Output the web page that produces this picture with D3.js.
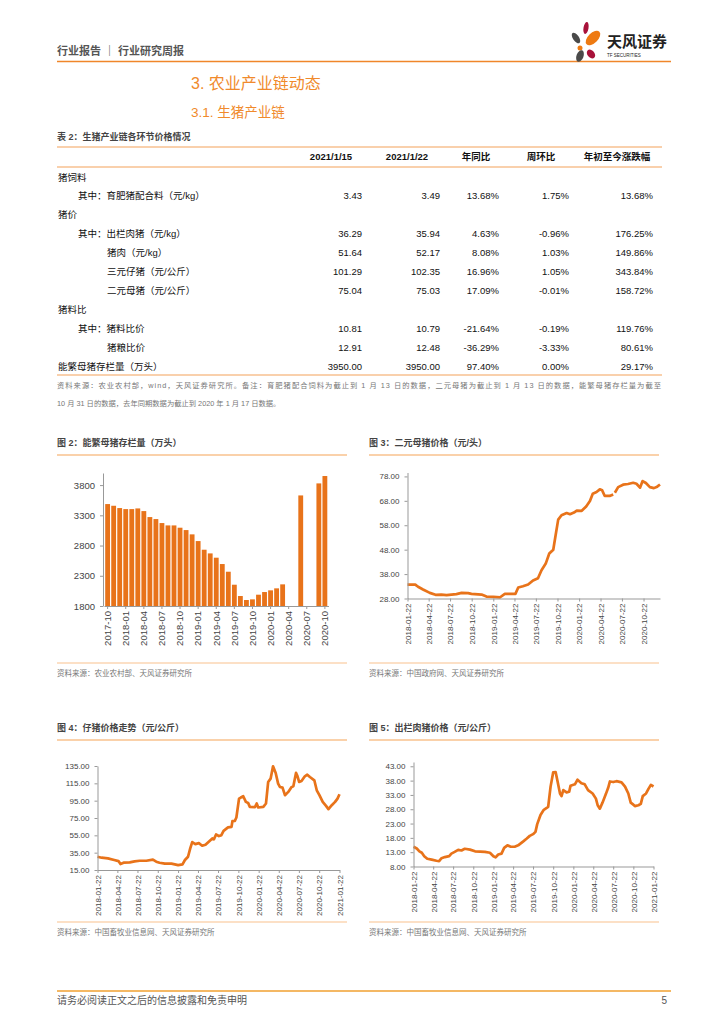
<!DOCTYPE html>
<html>
<head>
<meta charset="utf-8">
<script src="https://cdn.jsdelivr.net/npm/d3@7"></script>
<style>
body { margin: 0; background: #fff; }
text { font-family: "Liberation Sans", "Noto Sans CJK SC", sans-serif; }
</style>
</head>
<body>
<script>
// ---- table data ----
const tableHeaders = ["2021/1/15", "2021/1/22", "年同比", "周环比", "年初至今涨跌幅"];
const rowLabels = ["猪饲料", "其中：育肥猪配合料（元/kg）", "猪价", "其中：出栏肉猪（元/kg）", "猪肉（元/kg）",
    "三元仔猪（元/公斤）", "二元母猪（元/公斤）", "猪料比", "其中：猪料比价", "猪粮比价", "能繁母猪存栏量（万头）"];
const rowIndent = [0, 1, 0, 1, 2, 2, 2, 0, 1, 2, 0];
const rowValues = [
    null,
    ["3.43", "3.49", "13.68%", "1.75%", "13.68%"],
    null,
    ["36.29", "35.94", "4.63%", "-0.96%", "176.25%"],
    ["51.64", "52.17", "8.08%", "1.03%", "149.86%"],
    ["101.29", "102.35", "16.96%", "1.05%", "343.84%"],
    ["75.04", "75.03", "17.09%", "-0.01%", "158.72%"],
    null,
    ["10.81", "10.79", "-21.64%", "-0.19%", "119.76%"],
    ["12.91", "12.48", "-36.29%", "-3.33%", "80.61%"],
    ["3950.00", "3950.00", "97.40%", "0.00%", "29.17%"]
];

// ---- chart 2: 能繁母猪存栏量 ----
const sowMonths = ["2017-10","2017-11","2017-12","2018-01","2018-02","2018-03","2018-04","2018-05","2018-06",
    "2018-07","2018-08","2018-09","2018-10","2018-11","2018-12","2019-01","2019-02","2019-03","2019-04",
    "2019-05","2019-06","2019-07","2019-08","2019-09","2019-10","2019-11","2019-12","2020-01","2020-02",
    "2020-03","2020-04","2020-05","2020-06","2020-07","2020-08","2020-09","2020-10"];
const sowStock = [3486,3458,3420,3403,3403,3414,3370,3271,3238,3172,3133,3133,3095,3056,2985,2874,2731,
    2670,2599,2494,2367,2152,1965,1899,1910,1987,2031,2059,2092,2158,null,null,3629,null,null,3828,3950];
const sowTicks = [1800, 2300, 2800, 3300, 3800];

// ---- chart 3: 二元母猪价格 ----
const giltDates = ["2018-01-22","2018-02-24","2018-03-08","2018-03-29","2018-04-27","2018-05-21","2018-06-15",
    "2018-07-07","2018-08-18","2018-09-09","2018-10-07","2018-10-21","2018-12-03","2018-12-24","2019-01-22",
    "2019-02-20","2019-03-12","2019-04-26","2019-05-08","2019-05-28","2019-06-19","2019-07-10","2019-07-31",
    "2019-08-15","2019-09-02","2019-09-17","2019-10-04","2019-10-14","2019-10-25","2019-11-08","2019-11-30",
    "2019-12-14","2019-12-31","2020-01-12","2020-02-02","2020-02-21","2020-03-08","2020-03-20","2020-04-05",
    "2020-04-19","2020-04-29","2020-05-10","2020-05-31","2020-06-15","2020-06-18","2020-06-22","2020-07-06",
    "2020-07-27","2020-08-17","2020-09-08","2020-09-22","2020-10-07","2020-10-18","2020-11-01","2020-11-18",
    "2020-12-05","2020-12-19","2020-12-31"];
const giltPrice = [33.7,33.7,32.8,31.7,30.3,29.5,29.6,29.4,29.8,30.3,30.2,29.9,29.6,28.8,28.7,28.5,29.9,
    29.9,32.5,33.0,33.7,35.4,36.3,39.6,42.3,46.4,48.0,53.9,60.3,62.1,63.0,62.5,63.2,64.0,63.9,65.7,67.9,
    70.9,71.6,72.7,72.3,70.0,70.0,70.6,null,71.3,73.6,74.6,74.9,75.4,75.0,73.4,76.1,75.3,73.6,73.2,73.8,74.7];
const giltTicks = [28, 38, 48, 58, 68, 78];
const giltLabels = ["2018-01-22","2018-04-22","2018-07-22","2018-10-22","2019-01-22","2019-04-22",
    "2019-07-22","2019-10-22","2020-01-22","2020-04-22","2020-07-22","2020-10-22"];

// ---- chart 4: 仔猪价格 ----
const pigletDates = ["2018-01-22","2018-02-10","2018-03-10","2018-04-08","2018-04-27","2018-05-06","2018-05-20",
    "2018-06-17","2018-07-09","2018-08-01","2018-08-31","2018-09-30","2018-10-15","2018-10-30","2018-11-23",
    "2018-12-23","2019-01-07","2019-01-22","2019-02-11","2019-02-22","2019-03-08","2019-03-18","2019-03-27",
    "2019-04-10","2019-04-26","2019-05-11","2019-05-26","2019-06-10","2019-06-26","2019-07-03","2019-07-13",
    "2019-07-26","2019-08-06","2019-08-16","2019-09-05","2019-09-21","2019-09-25","2019-10-06","2019-10-13",
    "2019-10-25","2019-11-02","2019-11-13","2019-11-25","2019-12-05","2019-12-13","2020-01-05","2020-01-13",
    "2020-01-20","2020-02-12","2020-02-24","2020-03-05","2020-03-16","2020-03-27","2020-04-08","2020-04-19",
    "2020-04-27","2020-05-09","2020-05-20","2020-06-04","2020-06-19","2020-06-27","2020-07-09","2020-07-16",
    "2020-07-23","2020-08-03","2020-08-18","2020-08-29","2020-09-10","2020-09-30","2020-10-11","2020-10-23",
    "2020-11-07","2020-11-22","2020-12-03","2020-12-18","2021-01-02","2021-01-13","2021-01-22"];
const pigletPrice = [30.3,29.2,28.4,26.5,25.3,21.9,23.4,23.8,25.0,25.7,25.7,26.9,24.6,23.4,22.3,22.3,21.5,
    20.7,21.5,26.5,30.3,39.9,47.2,44.9,46.0,43.0,44.1,47.6,51.4,50.3,56.0,54.1,55.2,60.2,64.1,64.8,71.3,
    71.7,75.6,97.4,98.6,100.1,93.6,92.4,87.8,87.5,91.7,87.1,87.8,91.7,116.6,120.4,134.6,127.0,114.7,110.8,
    110.1,101.3,105.1,110.8,111.6,127.0,123.1,116.6,117.7,123.1,125.0,122.3,118.5,107.0,101.3,93.6,89.0,
    85.2,89.8,93.6,97.4,102.35];
const pigletTicks = [15, 35, 55, 75, 95, 115, 135];

// ---- chart 5: 出栏肉猪价格 ----
const hogDates = ["2018-01-22","2018-02-06","2018-02-18","2018-03-01","2018-03-12","2018-03-26","2018-04-15",
    "2018-05-07","2018-05-19","2018-05-30","2018-06-14","2018-07-04","2018-07-14","2018-07-29","2018-08-14",
    "2018-08-29","2018-09-13","2018-10-07","2018-10-30","2018-11-22","2018-12-14","2019-01-06","2019-01-22",
    "2019-02-01","2019-02-13","2019-02-28","2019-03-12","2019-03-27","2019-04-11","2019-04-29","2019-05-15",
    "2019-06-06","2019-06-22","2019-07-07","2019-07-22","2019-08-02","2019-08-10","2019-08-25","2019-09-09",
    "2019-09-29","2019-10-10","2019-10-22","2019-11-02","2019-11-11","2019-11-22","2019-11-29","2019-12-07",
    "2019-12-22","2020-01-03","2020-01-09","2020-01-29","2020-02-10","2020-02-28","2020-03-14","2020-03-29",
    "2020-04-19","2020-05-04","2020-05-12","2020-05-22","2020-06-03","2020-06-18","2020-06-29","2020-07-07",
    "2020-07-22","2020-08-06","2020-08-29","2020-09-14","2020-09-29","2020-10-10","2020-10-22","2020-10-29",
    "2020-11-14","2020-11-25","2020-12-04","2020-12-19","2020-12-30","2021-01-10","2021-01-22"];
const hogPrice = [14.9,14.3,13.3,12.8,11.6,10.7,10.4,10.0,9.9,10.9,11.3,11.6,12.5,13.1,13.8,13.6,14.2,13.9,
    13.3,13.2,13.1,12.8,11.6,11.2,12.2,12.5,14.5,15.4,14.9,14.9,15.4,16.7,17.7,18.7,19.3,20.1,22.8,26.0,
    27.8,28.8,35.9,40.9,41.0,37.7,33.5,32.6,34.7,33.9,34.1,36.2,36.7,38.3,37.1,36.7,34.7,33.5,31.7,29.4,
    28.2,30.3,33.2,35.5,37.7,37.5,37.8,37.4,35.9,33.5,30.3,29.6,29.1,29.4,29.9,32.6,33.5,35.1,36.5,35.94];
const hogTicks = [8, 13, 18, 23, 28, 33, 38, 43];
const quarterLabels = giltLabels.concat(["2021-01-22"]);

const ORANGE = "#E8731A";
const TITLE_ORANGE = "#F08A2C";
const RULE = "#F3A25A";
const LIGHT_RULE = "#F9C28E";
const parseDate = d3.timeParse("%Y-%m-%d");

const svg = d3.select("body").append("svg")
    .attr("width", 724)
    .attr("height", 1024);

svg.append("rect").attr("width", 724).attr("height", 1024).attr("fill", "#fff");

// ---- page header ----
svg.append("text").attr("x", 57).attr("y", 55)
    .attr("font-size", 11).attr("font-weight", "bold").attr("fill", "#555")
    .text("行业报告 ｜ 行业研究周报");
svg.append("line").attr("x1", 57).attr("x2", 671).attr("y1", 61.5).attr("y2", 61.5)
    .attr("stroke", "#F0862A").attr("stroke-width", 1.5);

// logo petals
const logo = svg.append("g").attr("transform", "translate(584,42)");
logo.append("ellipse").attr("cx", -8).attr("cy", -4).attr("rx", 3).attr("ry", 6)
    .attr("transform", "rotate(-35,-8,-4)").attr("fill", "#4a4a4a");
logo.append("ellipse").attr("cx", 2).attr("cy", -14).attr("rx", 2.5).attr("ry", 6)
    .attr("transform", "rotate(10,2,-14)").attr("fill", "#A8123A");
logo.append("ellipse").attr("cx", 9).attr("cy", -4).attr("rx", 5).attr("ry", 9)
    .attr("transform", "rotate(45,9,-4)").attr("fill", "#EE7A12");
logo.append("circle").attr("cx", -4).attr("cy", 6).attr("r", 2.5).attr("fill", "#EE7A12");
logo.append("ellipse").attr("cx", -4).attr("cy", 14).attr("rx", 3.5).attr("ry", 6)
    .attr("transform", "rotate(20,-4,14)").attr("fill", "#4a4a4a");
logo.append("ellipse").attr("cx", 7).attr("cy", 12).attr("rx", 3.5).attr("ry", 5)
    .attr("transform", "rotate(-40,7,12)").attr("fill", "#A8123A");
svg.append("text").attr("x", 607).attr("y", 47).attr("font-size", 15).attr("font-weight", "bold")
    .attr("fill", "#222").text("天风证券");
svg.append("text").attr("x", 607).attr("y", 57).attr("font-size", 4.5).attr("fill", "#222")
    .text("TF SECURITIES");

// ---- section titles ----
svg.append("text").attr("x", 191).attr("y", 89).attr("font-size", 16)
    .attr("fill", TITLE_ORANGE).text("3. 农业产业链动态");
svg.append("text").attr("x", 191).attr("y", 117).attr("font-size", 13.5)
    .attr("fill", TITLE_ORANGE).text("3.1. 生猪产业链");

// ---- table ----
svg.append("text").attr("x", 57).attr("y", 140).attr("font-size", 9).attr("font-weight", "bold")
    .attr("fill", "#444").text("表 2：生猪产业链各环节价格情况");
[147, 167, 375].forEach(y => {
    svg.append("line").attr("x1", 57).attr("x2", 662).attr("y1", y).attr("y2", y)
        .attr("stroke", RULE).attr("stroke-width", 1.2);
});
const headerCenters = [331, 407, 476, 541, 617];
const colRight = [362, 440, 499, 569, 653];
tableHeaders.forEach((h, i) => {
    svg.append("text").attr("x", headerCenters[i]).attr("y", 160).attr("text-anchor", "middle")
        .attr("font-size", 9.5).attr("font-weight", "bold").attr("fill", "#111").text(h);
});
const rowY = d3.scalePoint().domain(d3.range(rowLabels.length)).range([177, 366]);
const indentX = [58, 78, 107];
rowLabels.forEach((label, i) => {
    const y = rowY(i) + 3.5;
    svg.append("text").attr("x", indentX[rowIndent[i]]).attr("y", y)
        .attr("font-size", 9.5).attr("fill", "#111").text(label);
    if (rowValues[i]) {
        rowValues[i].forEach((v, j) => {
            svg.append("text").attr("x", colRight[j]).attr("y", y).attr("text-anchor", "end")
                .attr("font-size", 9.5).attr("fill", "#111").text(v);
        });
    }
});
svg.append("text").attr("x", 57).attr("y", 388).attr("font-size", 7.3).attr("fill", "#777")
    .attr("textLength", 604).attr("lengthAdjust", "spacing")
    .text("资料来源：农业农村部，wind，天风证券研究所。备注：育肥猪配合饲料为截止到 1 月 13 日的数据，二元母猪为截止到 1 月 13 日的数据，能繁母猪存栏量为截至");
svg.append("text").attr("x", 57).attr("y", 406).attr("font-size", 7.3).attr("fill", "#777")
    .text("10 月 31 日的数据，去年同期数据为截止到 2020 年 1 月 17 日数据。");

// ---- chart frames ----
function frame(x, titleY, title, bottomY, source) {
    svg.append("text").attr("x", x).attr("y", titleY).attr("font-size", 9).attr("font-weight", "bold")
        .attr("fill", "#444").text(title);
    svg.append("line").attr("x1", x).attr("x2", x + 290).attr("y1", titleY + 9).attr("y2", titleY + 9)
        .attr("stroke", LIGHT_RULE).attr("stroke-width", 1.5);
    svg.append("line").attr("x1", x).attr("x2", x + 290).attr("y1", bottomY).attr("y2", bottomY)
        .attr("stroke", LIGHT_RULE).attr("stroke-width", 1.2);
    svg.append("text").attr("x", x).attr("y", bottomY + 13).attr("font-size", 7.5)
        .attr("fill", "#777").text(source);
}
frame(57, 446, "图 2：能繁母猪存栏量（万头）", 663, "资料来源：农业农村部、天风证券研究所");
frame(369, 446, "图 3：二元母猪价格（元/头）", 663, "资料来源：中国政府网、天风证券研究所");
frame(57, 731, "图 4：仔猪价格走势（元/公斤）", 922, "资料来源：中国畜牧业信息网、天风证券研究所");
frame(369, 731, "图 5：出栏肉猪价格（元/公斤）", 922, "资料来源：中国畜牧业信息网、天风证券研究所");

function styleAxis(g, size) {
    g.selectAll("path, line").attr("stroke", "#999");
    g.selectAll("text").attr("font-size", size).attr("fill", "#444")
        .attr("font-family", "\"Liberation Sans\", sans-serif");
}

// ---- chart 2: bars ----
{
    const x = d3.scaleBand().domain(sowMonths).range([104, 328.5]).padding(0.2);
    const y = d3.scaleLinear().domain([1800, 4000]).range([606, 473]);
    svg.append("g").selectAll("rect")
        .data(sowMonths.map((m, i) => ({ m, v: sowStock[i] })).filter(d => d.v != null))
        .join("rect")
        .attr("x", d => x(d.m)).attr("width", x.bandwidth())
        .attr("y", d => y(d.v)).attr("height", d => y(1800) - y(d.v))
        .attr("fill", ORANGE);
    const gy = svg.append("g").attr("transform", "translate(103,0)")
        .call(d3.axisLeft(y).tickValues(sowTicks).tickFormat(d3.format("d"))
            .tickSize(3).tickSizeOuter(0).tickPadding(5));
    styleAxis(gy, 9.5);
    const gx = svg.append("g").attr("transform", "translate(0,606)")
        .call(d3.axisBottom(x).tickValues(sowMonths.filter((m, i) => i % 3 === 0)).tickSize(3).tickSizeOuter(0));
    styleAxis(gx, 9.5);
    gx.selectAll("text").attr("transform", "rotate(-90)").attr("text-anchor", "end")
        .attr("x", -5).attr("y", 0).attr("dy", "0.35em");
}

// ---- line chart helper ----
function lineChart(dates, values, opt) {
    const pts = dates.map((d, i) => ({ d: parseDate(d), v: values[i] }));
    const x = d3.scaleTime().domain([parseDate(opt.start), parseDate(opt.end)]).range([opt.x0, opt.x1]);
    const y = d3.scaleLinear().domain(opt.yDomain).range([opt.y0, opt.y1]);
    svg.append("path").datum(pts)
        .attr("d", d3.line().defined(p => p.v != null).x(p => x(p.d)).y(p => y(p.v)))
        .attr("fill", "none").attr("stroke", ORANGE).attr("stroke-width", 2.7)
        .attr("stroke-linejoin", "round");
    const gy = svg.append("g").attr("transform", `translate(${opt.x0},0)`)
        .call(d3.axisLeft(y).tickValues(opt.yTicks).tickFormat(d3.format(".2f"))
            .tickSize(3).tickSizeOuter(0).tickPadding(5));
    styleAxis(gy, 8);
    const gx = svg.append("g").attr("transform", `translate(0,${opt.y0})`)
        .call(d3.axisBottom(x).tickValues(opt.xLabels.map(parseDate))
            .tickFormat(d3.timeFormat("%Y-%m-%d")).tickSize(3).tickSizeOuter(0));
    styleAxis(gx, 8);
    gx.selectAll("text").attr("transform", "rotate(-90)").attr("text-anchor", "end")
        .attr("x", -5).attr("y", 0).attr("dy", "0.35em");
}

lineChart(giltDates, giltPrice, {
    start: "2018-01-22", end: "2020-12-31", x0: 407.5, x1: 660,
    yDomain: [28, 79.6], y0: 598.5, y1: 472.5, yTicks: giltTicks, xLabels: giltLabels
});
lineChart(pigletDates, pigletPrice, {
    start: "2018-01-22", end: "2021-01-22", x0: 97.5, x1: 339.5,
    yDomain: [15, 135], y0: 870, y1: 766, yTicks: pigletTicks, xLabels: quarterLabels
});
lineChart(hogDates, hogPrice, {
    start: "2018-01-22", end: "2021-01-22", x0: 413.5, x1: 653.5,
    yDomain: [8, 44.5], y0: 866.5, y1: 762, yTicks: hogTicks, xLabels: quarterLabels
});

// ---- footer ----
svg.append("line").attr("x1", 57).attr("x2", 671).attr("y1", 991).attr("y2", 991)
    .attr("stroke", "#F0A030").attr("stroke-width", 1.5);
svg.append("text").attr("x", 57).attr("y", 1004).attr("font-size", 10).attr("fill", "#555")
    .text("请务必阅读正文之后的信息披露和免责申明");
svg.append("text").attr("x", 667).attr("y", 1004).attr("font-size", 10).attr("fill", "#555")
    .attr("text-anchor", "end").text("5");
</script>
</body>
</html>
